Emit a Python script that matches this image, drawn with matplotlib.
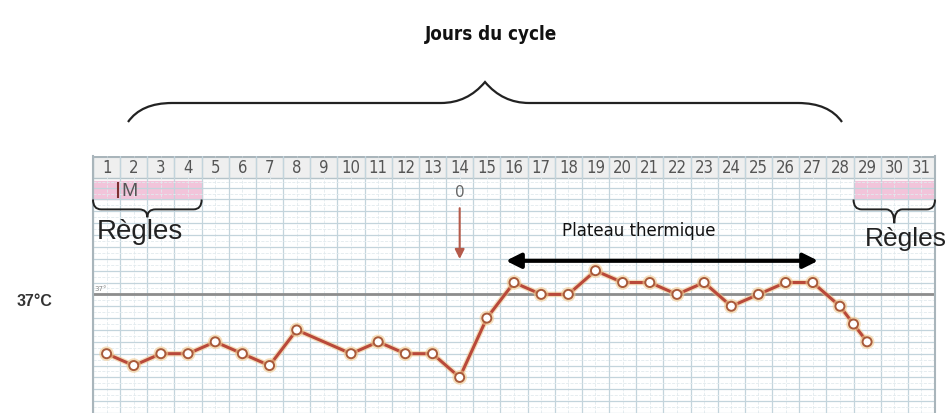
import numpy as np
import matplotlib.pyplot as plt
from matplotlib.path import Path
from matplotlib.patches import PathPatch
import matplotlib.patheffects as pe

# jours du cycle et températures relevées
days = [1, 2, 3, 4, 5, 6, 7, 8, 10, 11, 12, 13, 14, 15, 16, 17, 18, 19, 20,
        21, 22, 23, 24, 25, 26, 27, 28, 28.5, 29]
temps = [36.5, 36.4, 36.5, 36.5, 36.6, 36.5, 36.4, 36.7, 36.5, 36.6, 36.5,
         36.5, 36.3, 36.8, 37.1, 37.0, 37.0, 37.2, 37.1, 37.1, 37.0, 37.1,
         36.9, 37.0, 37.1, 37.1, 36.9, 36.75, 36.6]
day_labels = [str(d) for d in range(1, 32)]
regles_1 = (1, 4)
regles_2 = (29, 31)
ovulation_day = 14
plateau = (15.6, 27.3)
ref_temp = 37.0

LINE_COL = '#b9493a'
GRID_COL = '#c3d4dc'

fig = plt.figure(figsize=(9.52, 4.14), dpi=100)
fig.patch.set_facecolor('white')

# calque en pixels pour le titre et la grande accolade
over = fig.add_axes([0, 0, 1, 1])
over.set_xlim(0, 952)
over.set_ylim(414, 0)
over.axis('off')


def brace_path(x0, x1, y_end, y_mid, y_tip, r):
    xm = (x0 + x1) / 2
    verts = [(x0, y_end), (x0 + r * 0.3, y_mid), (x0 + r, y_mid),
             (xm - r, y_mid),
             (xm - r * 0.4, y_mid), (xm, y_tip),
             (xm + r * 0.4, y_mid), (xm + r, y_mid),
             (x1 - r, y_mid),
             (x1 - r * 0.3, y_mid), (x1, y_end)]
    codes = [Path.MOVETO, Path.CURVE3, Path.CURVE3, Path.LINETO,
             Path.CURVE3, Path.CURVE3, Path.CURVE3, Path.CURVE3,
             Path.LINETO, Path.CURVE3, Path.CURVE3]
    return Path(verts, codes)


over.add_patch(PathPatch(brace_path(128, 842, 123, 104, 83, 44),
                         fill=False, lw=1.6, color='#222'))
over.text(491, 34, 'Jours du cycle', ha='center', va='center', fontsize=13.5,
          fontweight='bold', fontstretch='condensed', color='#111',
          family='DejaVu Sans')
over.text(17, 302, '37°C', ha='left', va='center', fontsize=11.5,
          fontweight='bold', color='#333', family=['Liberation Sans', 'DejaVu Sans'])

# graphique principal
ax = fig.add_axes([93 / 952, 0, 842 / 952, 257 / 414])
ylo, yhi = 37 - 117 / 120, 37 + 140 / 120
ax.set_xlim(0.5, 31.5)
ax.set_ylim(ylo, yhi)
ax.set_facecolor('white')

head_lo = 37 + (297 - 179) / 120
pink_lo, pink_hi = 37 + (297 - 201) / 120, 37 + (297 - 182) / 120

ax.set_xticks(np.arange(0.5, 32, 1))
ax.set_xticks(np.arange(1, 32, 1), minor=True)
ax.set_yticks(np.arange(36.0, 38.0, 0.1))
ax.set_yticks(np.arange(36.05, 38.0, 0.1), minor=True)
ax.grid(which='major', color=GRID_COL, lw=0.9, zorder=0)
ax.grid(which='minor', color='#e2eaee', lw=0.6, ls='--', zorder=0)
ax.tick_params(which='both', length=0, labelbottom=False, labelleft=False)
for s in ['top', 'bottom']:
    ax.spines[s].set_visible(False)
for s in ['left', 'right']:
    ax.spines[s].set_color('#a9b5bb')
    ax.spines[s].set_linewidth(1.5)

# en-tête des jours
ax.axhspan(head_lo, yhi, color='#efefef', zorder=1)
ax.vlines(np.arange(0.5, 32, 1), head_lo, yhi, color='#bfc9ce', lw=0.9, zorder=1.5)
ax.axhline(head_lo, color='#b5c3c9', lw=1, zorder=1.5)
ax.axhline(yhi - 0.005, color='#a9b5bb', lw=1.5, zorder=1.5)
for i, lab in enumerate(day_labels):
    ax.text(i + 1, (head_lo + yhi) / 2, lab, ha='center', va='center',
            fontsize=12, color='#555', family='DejaVu Sans', fontstretch='condensed',
            zorder=2)

# règles
for a, b in [regles_1, regles_2]:
    ax.fill_between([a - 0.5, b + 0.5], pink_lo, pink_hi, color='#f2c4da', zorder=1)
ax.vlines(1.42, pink_lo + 0.01, pink_hi - 0.01, color='#7d3030', lw=1.5, zorder=2)
ax.text(1.55, (pink_lo + pink_hi) / 2, 'M', ha='left', va='center', fontsize=14,
        color='#555', family=['Liberation Sans', 'DejaVu Sans'], zorder=2)


def small_brace(a, b, top, mid, tip, r):
    xm = (a + b) / 2
    verts = [(a, top), (a, mid), (a + r, mid), (xm - r, mid), (xm, mid), (xm, tip),
             (xm, mid), (xm + r, mid), (b - r, mid), (b, mid), (b, top)]
    codes = [Path.MOVETO, Path.CURVE3, Path.CURVE3, Path.LINETO, Path.CURVE3,
             Path.CURVE3, Path.CURVE3, Path.CURVE3, Path.LINETO, Path.CURVE3, Path.CURVE3]
    ax.add_patch(PathPatch(Path(verts, codes), fill=False, lw=1.4, color='#222',
                           zorder=3, clip_on=False))


small_brace(regles_1[0] - 0.5, regles_1[1] + 0.5, pink_lo, 37 + (297 - 211) / 120,
            37 + (297 - 219) / 120, 0.3)
small_brace(regles_2[0] - 0.5, regles_2[1] + 0.5, pink_lo, 37 + (297 - 211) / 120,
            37 + (297 - 225) / 120, 0.3)
ax.text(0.65, 37 + (297 - 233) / 120, 'Règles', ha='left', va='center', fontsize=20,
        color='#222', family=['Liberation Sans', 'DejaVu Sans'], zorder=3)
ax.text(28.9, 37 + (297 - 240) / 120, 'Règles', ha='left', va='center', fontsize=19,
        color='#222', family=['Liberation Sans', 'DejaVu Sans'], zorder=3, clip_on=False)

# ovulation
ax.text(ovulation_day, 37 + (297 - 193) / 120, '0', ha='center', va='center',
        fontsize=11, color='#666', zorder=3)
ax.annotate('', xy=(ovulation_day, 37 + (297 - 264) / 120),
            xytext=(ovulation_day, 37 + (297 - 207) / 120),
            arrowprops=dict(arrowstyle='-|>', color='#b55a4a', lw=1.5, mutation_scale=14),
            zorder=3)

# plateau thermique
ax.text(20.6, 37 + (297 - 232) / 120, 'Plateau thermique', ha='center', va='center',
        fontsize=12, color='#111', zorder=3)
ax.annotate('', xy=(plateau[1], 37 + (297 - 263) / 120),
            xytext=(plateau[0], 37 + (297 - 263) / 120),
            arrowprops=dict(arrowstyle='<|-|>', color='black', lw=3, mutation_scale=22),
            zorder=3)

# ligne de référence 37 °C
ax.axhline(ref_temp, color='#8d8d8d', lw=2, zorder=2)
ax.text(0.57, ref_temp + 0.035, '37°', fontsize=5, color='#888', zorder=3)

# courbe de température
ax.plot(days, temps, color=LINE_COL, lw=2.2, marker='o', ms=6.5, mfc='white',
        mec='#a85a3a', mew=1.4, zorder=4,
        path_effects=[pe.Stroke(linewidth=4, foreground='#f1c98f', alpha=0.6), pe.Normal()])

plt.savefig('out.png', dpi=100)
